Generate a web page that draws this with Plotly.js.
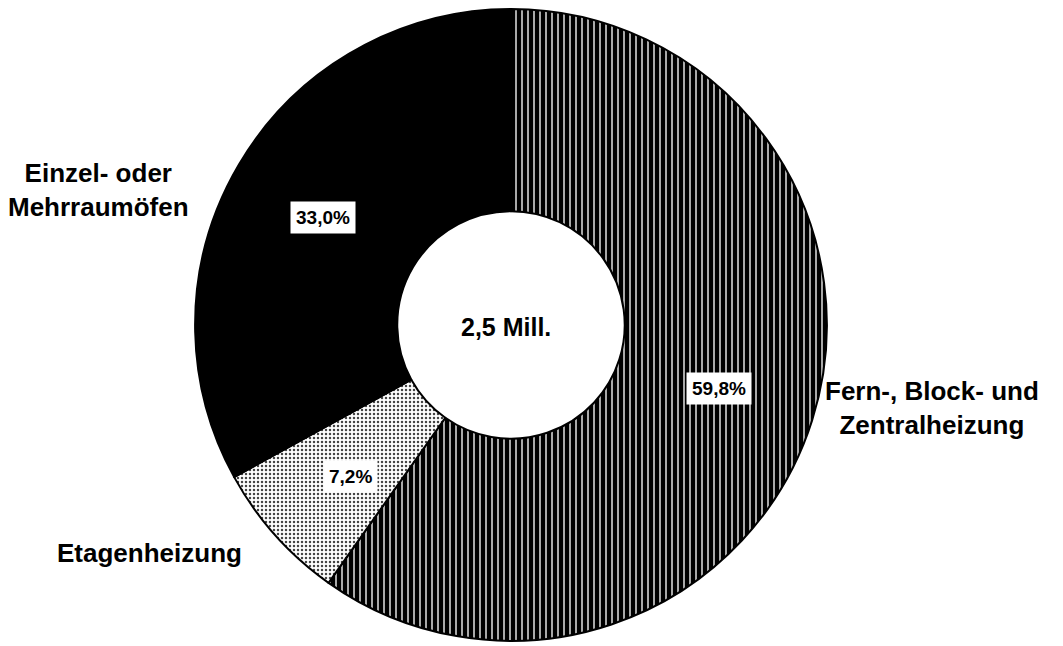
<!DOCTYPE html>
<html>
<head>
<meta charset="utf-8">
<script src="https://cdn.plot.ly/plotly-3.0.1.min.js"></script>
<style>html,body{margin:0;padding:0;background:#fff;}#chart{width:1063px;height:646px;}</style>
</head>
<body>
<div id="chart"></div>
<script>
const categories = ['Fern-, Block- und<br>Zentralheizung', 'Etagenheizung', 'Einzel- oder<br>Mehrraumöfen'];
const shares = [59.8, 7.2, 33.0];
const centerLabel = '2,5 Mill.';

const W = 1063, H = 646;
const px = (x) => x / W;
const py = (y) => 1 - y / H;
const fmt = (v) => v.toFixed(1).replace('.', ',') + '%';

const font = {family: 'Liberation Sans, Arial, sans-serif', color: '#000'};

const trace = {
  type: 'pie',
  values: shares,
  labels: categories,
  sort: false,
  direction: 'clockwise',
  rotation: 0,
  hole: 0.36,
  textinfo: 'none',
  hoverinfo: 'label+percent',
  domain: {x: [0.0807, 0.8807], y: [0.008, 0.986]},
  marker: {
    colors: ['#ffffff', '#ffffff', '#000000'],
    line: {color: '#000', width: 2},
    pattern: {
      shape: ['|', '.', ''],
      fgcolor: ['#000', '#444', '#000'],
      bgcolor: ['#fff', '#fff', '#000'],
      size: [6, 4, 6],
      solidity: [0.78, 0.3, 0.5]
    }
  },
  showlegend: false
};

const boxFont = Object.assign({}, font, {size: 19, weight: 'bold'});
const labFont = Object.assign({}, font, {size: 26, weight: 'bold'});

const annotations = [
  {x: px(719), y: py(388), text: '<b>' + fmt(shares[0]) + '</b>'},
  {x: px(350), y: py(476), text: '<b>' + fmt(shares[1]) + '</b>'},
  {x: px(323), y: py(217), text: '<b>' + fmt(shares[2]) + '</b>'}
].map(a => Object.assign(a, {xref: 'paper', yref: 'paper', showarrow: false,
  bgcolor: '#fff', borderpad: 5, font: boxFont, xanchor: 'center', yanchor: 'middle'}));

annotations.push(
  {x: px(932), y: py(408), text: '<b>' + categories[0] + '</b>', align: 'center'},
  {x: px(149), y: py(553), text: '<b>' + categories[1] + '</b>', align: 'center'},
  {x: px(98), y: py(190), text: '<b>' + categories[2] + '</b>', align: 'center'},
  {x: px(506), y: py(327), text: '<b>' + centerLabel + '</b>', align: 'center'}
);
for (let i = 3; i < annotations.length; i++) {
  Object.assign(annotations[i], {xref: 'paper', yref: 'paper', showarrow: false,
    font: labFont, xanchor: 'center', yanchor: 'middle'});
}
annotations[6].font = Object.assign({}, font, {size: 25, weight: 'bold'});

const layout = {
  width: W, height: H,
  margin: {l: 0, r: 0, t: 0, b: 0},
  paper_bgcolor: '#fff',
  plot_bgcolor: '#fff',
  annotations: annotations,
  showlegend: false
};

Plotly.newPlot('chart', [trace], layout, {displayModeBar: false, staticPlot: true});
</script>
</body>
</html>
